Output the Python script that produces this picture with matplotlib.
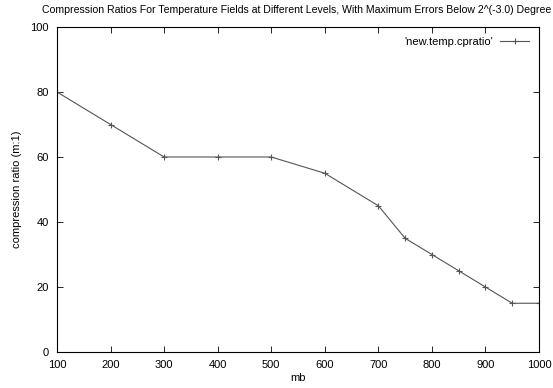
import matplotlib
matplotlib.use("Agg")
import matplotlib.pyplot as plt

plt.rcParams['font.family'] = ['Liberation Sans', 'DejaVu Sans']

levels = [100, 200, 300, 400, 500, 600, 700, 750, 800, 850, 900, 950, 1000]
ratios = [80, 70, 60, 60, 60, 55, 45, 35, 30, 25, 20, 15, 15]
xticks = [100, 200, 300, 400, 500, 600, 700, 800, 900, 1000]
yticks = [0, 20, 40, 60, 80, 100]

fig = plt.figure(figsize=(5.53, 3.88), dpi=100)
L, R, T, B = 57, 539, 27, 352
ax = fig.add_axes([L/553, 1-B/388, (R-L)/553, (B-T)/388])
ax.plot(levels, ratios, color='#555555', lw=0.8, marker='+', ms=5, mew=0.8,
        label="'new.temp.cpratio'")
ax.set_xlim(100, 1000)
ax.set_ylim(0, 100)
ax.set_xticks(xticks)
ax.set_yticks(yticks)
ax.tick_params(direction='in', top=True, right=True, length=4, width=0.6,
               labelsize=8, pad=6, colors='black')
for s in ax.spines.values():
    s.set_linewidth(0.8)
ax.set_xlabel('mb', fontsize=8, labelpad=2)
ax.set_ylabel('compression ratio (m:1)', fontsize=8, labelpad=6)
leg = ax.legend(loc='upper right', frameon=False, fontsize=8, handlelength=2.6,
                borderaxespad=0.5, handletextpad=0.6, markerfirst=False)
fig.text(42/553, 1-10/388, 'Compression Ratios For Temperature Fields at Different Levels, With Maximum Errors Below 2^(-3.0) Degree',
         fontsize=7.6, ha='left', va='center')
fig.savefig('out.png', dpi=100)
